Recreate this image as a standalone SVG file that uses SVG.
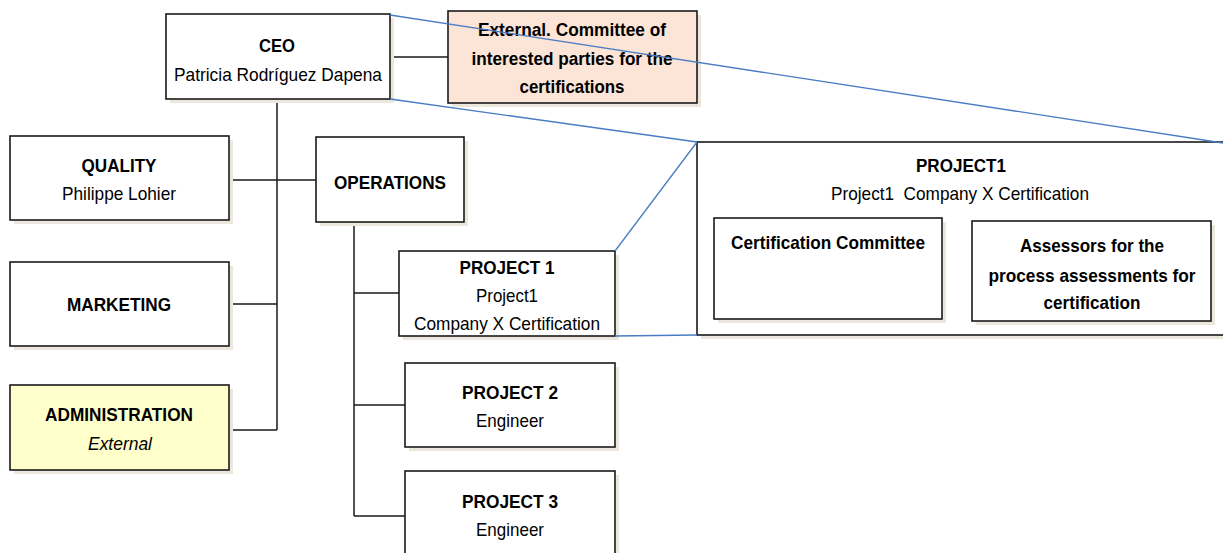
<svg xmlns="http://www.w3.org/2000/svg" width="1223" height="553" viewBox="0 0 1223 553">
  <style>
    .box { fill: #ffffff; stroke: #1a1a1a; stroke-width: 1.6; }
    .shadow { fill: #ebe7dc; }
    .ext { fill: #fce4d6; }
    .adm { fill: #ffffcc; }
    .link { fill: none; stroke: #1a1a1a; stroke-width: 1.5; }
    .zoom { fill: none; stroke: #4a7cc4; stroke-width: 1.3; }
    text { font-family: "Liberation Sans", Arial, sans-serif; font-size: 19px; fill: #000; text-anchor: middle; dominant-baseline: central; }
    .b { font-weight: bold; }
    .i { font-style: italic; }
  </style>

  <g id="connectors">
    <!-- CEO spine and branches -->
    <path class="link" d="M277 99 V430 M291 57 H448 M229 180 H316 M229 304 H277 M229 430 H277"/>
    <!-- Operations spine and project branches -->
    <path class="link" d="M354 222 V516 M354 293 H405 M354 405 H405 M354 516 H405"/>
  </g>

  <g id="ceo">
    <rect class="shadow" x="170" y="18" width="224" height="85"/>
    <rect class="box" x="166" y="14" width="224" height="85"/>
    <text class="b" x="277" y="45" textLength="36" lengthAdjust="spacingAndGlyphs">CEO</text>
    <text x="278" y="74" textLength="208" lengthAdjust="spacingAndGlyphs">Patricia Rodríguez Dapena</text>
  </g>

  <g id="external-committee">
    <rect class="shadow" x="452" y="15" width="249" height="92"/>
    <rect class="box ext" x="448" y="11" width="249" height="92"/>
    <text class="b" x="572" y="29" textLength="188" lengthAdjust="spacingAndGlyphs">External. Committee of</text>
    <text class="b" x="572" y="58" textLength="201" lengthAdjust="spacingAndGlyphs">interested parties for the</text>
    <text class="b" x="572" y="86" textLength="105" lengthAdjust="spacingAndGlyphs">certifications</text>
  </g>

  <g id="quality">
    <rect class="shadow" x="14" y="140" width="219" height="84"/>
    <rect class="box" x="10" y="136" width="219" height="84"/>
    <text class="b" x="119" y="165" textLength="75" lengthAdjust="spacingAndGlyphs">QUALITY</text>
    <text x="119" y="193" textLength="114" lengthAdjust="spacingAndGlyphs">Philippe Lohier</text>
  </g>

  <g id="operations">
    <rect class="shadow" x="320" y="141" width="148" height="85"/>
    <rect class="box" x="316" y="137" width="148" height="85"/>
    <text class="b" x="390" y="182" textLength="112" lengthAdjust="spacingAndGlyphs">OPERATIONS</text>
  </g>

  <g id="marketing">
    <rect class="shadow" x="14" y="266" width="219" height="84"/>
    <rect class="box" x="10" y="262" width="219" height="84"/>
    <text class="b" x="119" y="304" textLength="104" lengthAdjust="spacingAndGlyphs">MARKETING</text>
  </g>

  <g id="administration">
    <rect class="shadow" x="14" y="389" width="219" height="85"/>
    <rect class="box adm" x="10" y="385" width="219" height="85"/>
    <text class="b" x="119" y="414" textLength="148" lengthAdjust="spacingAndGlyphs">ADMINISTRATION</text>
    <text class="i" x="120" y="443" textLength="64" lengthAdjust="spacingAndGlyphs">External</text>
  </g>

  <g id="project-1">
    <rect class="shadow" x="403" y="255" width="216" height="85"/>
    <rect class="box" x="399" y="251" width="216" height="85"/>
    <text class="b" x="507" y="267" textLength="95" lengthAdjust="spacingAndGlyphs">PROJECT 1</text>
    <text x="507" y="295" textLength="62" lengthAdjust="spacingAndGlyphs">Project1</text>
    <text x="507" y="323" textLength="186" lengthAdjust="spacingAndGlyphs">Company X Certification</text>
  </g>

  <g id="project-2">
    <rect class="shadow" x="409" y="367" width="210" height="84"/>
    <rect class="box" x="405" y="363" width="210" height="84"/>
    <text class="b" x="510" y="392" textLength="96" lengthAdjust="spacingAndGlyphs">PROJECT 2</text>
    <text x="510" y="420" textLength="68" lengthAdjust="spacingAndGlyphs">Engineer</text>
  </g>

  <g id="project-3">
    <rect class="shadow" x="409" y="475" width="210" height="90"/>
    <rect class="box" x="405" y="471" width="210" height="90"/>
    <text class="b" x="510" y="501" textLength="96" lengthAdjust="spacingAndGlyphs">PROJECT 3</text>
    <text x="510" y="529" textLength="68" lengthAdjust="spacingAndGlyphs">Engineer</text>
  </g>

  <g id="project1-detail">
    <rect class="shadow" x="701" y="146" width="530" height="193"/>
    <rect class="box" x="697" y="142" width="530" height="193"/>
    <text class="b" x="961" y="165" textLength="90" lengthAdjust="spacingAndGlyphs">PROJECT1</text>
    <text x="960" y="193" textLength="258" lengthAdjust="spacingAndGlyphs" xml:space="preserve">Project1  Company X Certification</text>
  </g>

  <g id="certification-committee">
    <rect class="shadow" x="718" y="222" width="228" height="101"/>
    <rect class="box" x="714" y="218" width="228" height="101"/>
    <text class="b" x="828" y="242" textLength="194" lengthAdjust="spacingAndGlyphs">Certification Committee</text>
  </g>

  <g id="assessors">
    <rect class="shadow" x="976" y="225" width="239" height="100"/>
    <rect class="box" x="972" y="221" width="239" height="100"/>
    <text class="b" x="1092" y="245" textLength="144" lengthAdjust="spacingAndGlyphs">Assessors for the</text>
    <text class="b" x="1092" y="275" textLength="207" lengthAdjust="spacingAndGlyphs">process assessments for</text>
    <text class="b" x="1092" y="302" textLength="97" lengthAdjust="spacingAndGlyphs">certification</text>
  </g>

  <g id="zoom-lines">
    <path class="zoom" d="M390 15 L1223 143 M390 99 L697 142 M615 251 L697 142 M615 336 L697 335"/>
  </g>
</svg>
